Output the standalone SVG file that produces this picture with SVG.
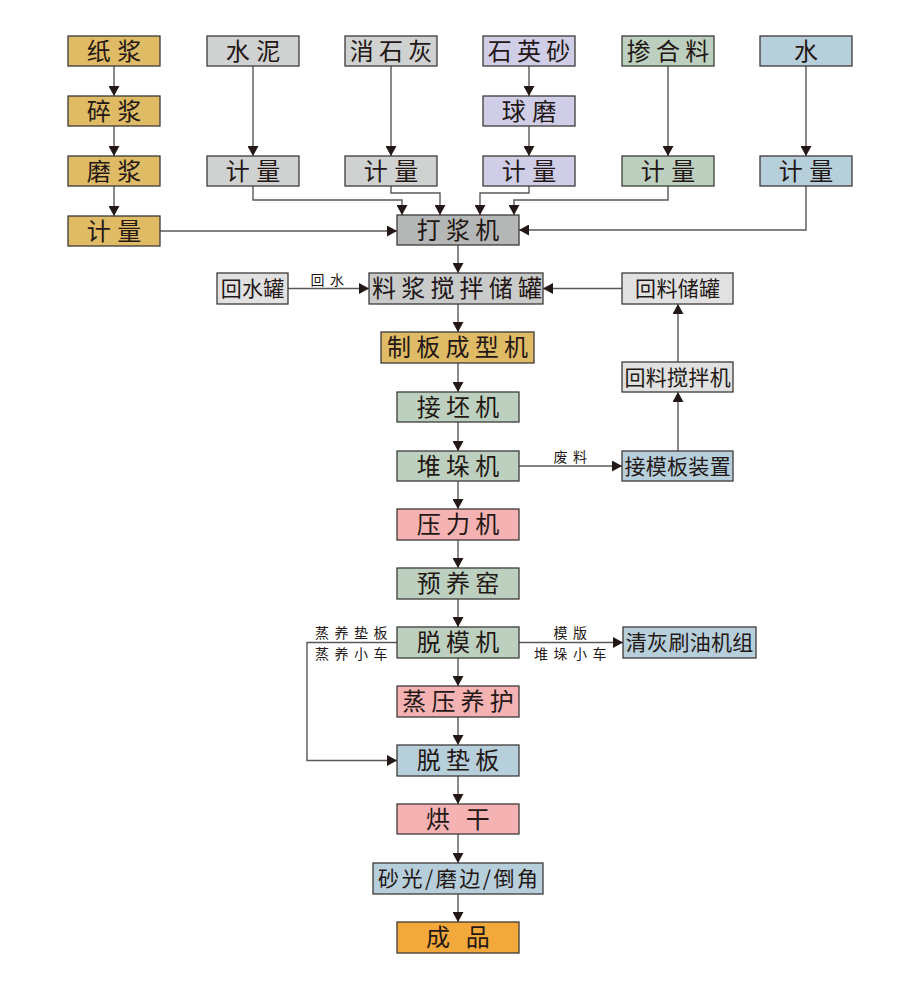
<svg xmlns="http://www.w3.org/2000/svg" width="918" height="981" viewBox="0 0 918 981">
<defs>
<style>
.bx{stroke:#3e3a39;stroke-width:1.3}
.gold{fill:#dfbb66}.gray{fill:#d0d1d1}.lav{fill:#d0cde7}.grn{fill:#bdd0bf}.blu{fill:#b7cedb}
.dk{fill:#b5b6b6}.mid{fill:#c9caca}.lt{fill:#e1e1e1}.pink{fill:#f4b2b3}.org{fill:#f3a83b}
text{font-family:"Noto Sans CJK SC","Noto Sans CJK TC",sans-serif;fill:#231815;text-anchor:middle}
.t2{font-size:24px;letter-spacing:6.6px}
.t3{font-size:24px;letter-spacing:5.2px}
.t1{font-size:24px}
.s{font-size:21px;letter-spacing:0.3px}
.lb{font-size:14px;letter-spacing:5.5px}
.ln{fill:none;stroke:#595757;stroke-width:1.4;marker-end:url(#ah)}
</style>
<marker id="ah" markerUnits="userSpaceOnUse" markerWidth="11" markerHeight="11" refX="10" refY="5.5" orient="auto" viewBox="0 0 11 11">
<path d="M0,0 L10,5.5 L0,11 z" fill="#231815"/>
</marker>
</defs>
<rect width="918" height="981" fill="#ffffff"/>

<g id="connectors">
<path class="ln" d="M114,66 V96"/>
<path class="ln" d="M114,126 V156"/>
<path class="ln" d="M114,186 V216"/>
<path class="ln" d="M160,231 H397"/>
<path class="ln" d="M253,66 V156"/>
<path class="ln" d="M391,66 V156"/>
<path class="ln" d="M529,66 V96"/>
<path class="ln" d="M529,126 V156"/>
<path class="ln" d="M668,66 V156"/>
<path class="ln" d="M806,66 V156"/>
<path class="ln" d="M253,186 V200 H402 V215"/>
<path class="ln" d="M391,186 V193 H440 V215"/>
<path class="ln" d="M529,186 V193 H480 V215"/>
<path class="ln" d="M668,186 V200 H514 V215"/>
<path class="ln" d="M806,186 V230 H519"/>
<path class="ln" d="M458,245 V273"/>
<path class="ln" d="M288,288.5 H369"/>
<path class="ln" d="M622,288.5 H543"/>
<path class="ln" d="M458,304 V332"/>
<path class="ln" d="M458,363 V392"/>
<path class="ln" d="M458,422 V451"/>
<path class="ln" d="M519,466 H622"/>
<path class="ln" d="M678,451 V392"/>
<path class="ln" d="M678,362 V304"/>
<path class="ln" d="M458,481 V509"/>
<path class="ln" d="M458,540 V568"/>
<path class="ln" d="M458,599 V627"/>
<path class="ln" d="M458,658 V686"/>
<path class="ln" d="M519,642.5 H623"/>
<path class="ln" d="M397,642.5 H307 V760.5 H397"/>
<path class="ln" d="M458,717 V745"/>
<path class="ln" d="M458,776 V804"/>
<path class="ln" d="M458,834 V863"/>
<path class="ln" d="M458,894 V922"/>
<text class="lb" x="330" y="284.5">回水</text>
<text class="lb" x="573" y="461.5">废料</text>
<text class="lb" x="354" y="637.5">蒸养垫板</text>
<text class="lb" x="354" y="658.5">蒸养小车</text>
<text class="lb" x="573" y="637.5">模版</text>
<text class="lb" x="573" y="658.5">堆垛小车</text>
</g>

<g id="n-zhijiang"><rect class="bx gold" x="68" y="36" width="92" height="30"/><text class="t2" x="117.3" y="59.6">纸浆</text></g>
<g id="n-suijiang"><rect class="bx gold" x="68" y="96" width="92" height="30"/><text class="t2" x="117.3" y="119.6">碎浆</text></g>
<g id="n-mojiang"><rect class="bx gold" x="68" y="156" width="92" height="30"/><text class="t2" x="117.3" y="179.6">磨浆</text></g>
<g id="n-jiliang1"><rect class="bx gold" x="68" y="216" width="92" height="30"/><text class="t2" x="117.3" y="239.6">计量</text></g>

<g id="n-shuini"><rect class="bx gray" x="207" y="36" width="92" height="30"/><text class="t2" x="256.3" y="59.6">水泥</text></g>
<g id="n-jiliang2"><rect class="bx gray" x="207" y="156" width="92" height="30"/><text class="t2" x="256.3" y="179.6">计量</text></g>

<g id="n-xiaoshihui"><rect class="bx gray" x="345" y="36" width="92" height="30"/><text class="t3" x="393.6" y="59.6">消石灰</text></g>
<g id="n-jiliang3"><rect class="bx gray" x="345" y="156" width="92" height="30"/><text class="t2" x="394.3" y="179.6">计量</text></g>

<g id="n-shiyingsha"><rect class="bx lav" x="483" y="36" width="92" height="30"/><text class="t3" x="531.6" y="59.6">石英砂</text></g>
<g id="n-qiumo"><rect class="bx lav" x="483" y="96" width="92" height="30"/><text class="t2" x="532.3" y="119.6">球磨</text></g>
<g id="n-jiliang4"><rect class="bx lav" x="483" y="156" width="92" height="30"/><text class="t2" x="532.3" y="179.6">计量</text></g>

<g id="n-chanheliao"><rect class="bx grn" x="622" y="36" width="92" height="30"/><text class="t3" x="670.6" y="59.6">掺合料</text></g>
<g id="n-jiliang5"><rect class="bx grn" x="622" y="156" width="92" height="30"/><text class="t2" x="671.3" y="179.6">计量</text></g>

<g id="n-shui"><rect class="bx blu" x="760" y="36" width="92" height="30"/><text class="t1" x="806" y="59.6">水</text></g>
<g id="n-jiliang6"><rect class="bx blu" x="760" y="156" width="92" height="30"/><text class="t2" x="809.3" y="179.6">计量</text></g>

<g id="n-dajiangji"><rect class="bx dk" x="397" y="215" width="122" height="30"/><text class="t3" x="460.6" y="238.6">打浆机</text></g>
<g id="n-huishuiguan"><rect class="bx lt" x="217" y="273" width="71" height="31"/><text class="s" x="252.7" y="296">回水罐</text></g>
<g id="n-liaojiang"><rect class="bx mid" x="369" y="273" width="174" height="31"/><text class="t3" x="459.6" y="297.1">料浆搅拌储罐</text></g>
<g id="n-huiliaochuguan"><rect class="bx lt" x="622" y="273" width="111" height="31"/><text class="s" x="677.7" y="296">回料储罐</text></g>
<g id="n-zhiban"><rect class="bx gold" x="381" y="332" width="153" height="31"/><text class="t3" x="460.1" y="356.1">制板成型机</text></g>
<g id="n-huiliaojiaoban"><rect class="bx lt" x="622" y="362" width="111" height="30"/><text class="s" x="677.7" y="384.5">回料搅拌机</text></g>
<g id="n-jiepiji"><rect class="bx grn" x="397" y="392" width="122" height="30"/><text class="t3" x="460.6" y="415.6">接坯机</text></g>
<g id="n-duiduoji"><rect class="bx grn" x="397" y="451" width="122" height="30"/><text class="t3" x="460.6" y="474.6">堆垛机</text></g>
<g id="n-jiemoban"><rect class="bx blu" x="622" y="451" width="111" height="30"/><text class="s" x="677.7" y="473.5">接模板装置</text></g>
<g id="n-yaliji"><rect class="bx pink" x="397" y="509" width="122" height="31"/><text class="t3" x="460.6" y="533.1">压力机</text></g>
<g id="n-yuyangyao"><rect class="bx grn" x="397" y="568" width="122" height="31"/><text class="t3" x="460.6" y="592.1">预养窑</text></g>
<g id="n-tuomoji"><rect class="bx grn" x="397" y="627" width="122" height="31"/><text class="t3" x="460.6" y="651.1">脱模机</text></g>
<g id="n-qinghui"><rect class="bx blu" x="623" y="627" width="133" height="31"/><text class="s" x="689.7" y="650">清灰刷油机组</text></g>
<g id="n-zhengya"><rect class="bx pink" x="397" y="686" width="122" height="31"/><text class="t3" x="460.6" y="710.1">蒸压养护</text></g>
<g id="n-tuodianban"><rect class="bx blu" x="397" y="745" width="122" height="31"/><text class="t3" x="460.6" y="769.1">脱垫板</text></g>
<g id="n-honggan"><rect class="bx pink" x="397" y="804" width="122" height="30"/><text class="t3" x="460.6" y="827.6">烘 干</text></g>
<g id="n-shaguang"><rect class="bx blu" x="373" y="863" width="170" height="31"/><text class="s" style="letter-spacing:2.5px" x="459.2" y="886">砂光/磨边/倒角</text></g>
<g id="n-chengpin"><rect class="bx org" x="397" y="922" width="122" height="31"/><text class="t3" x="460.6" y="946.1">成 品</text></g>
</svg>
